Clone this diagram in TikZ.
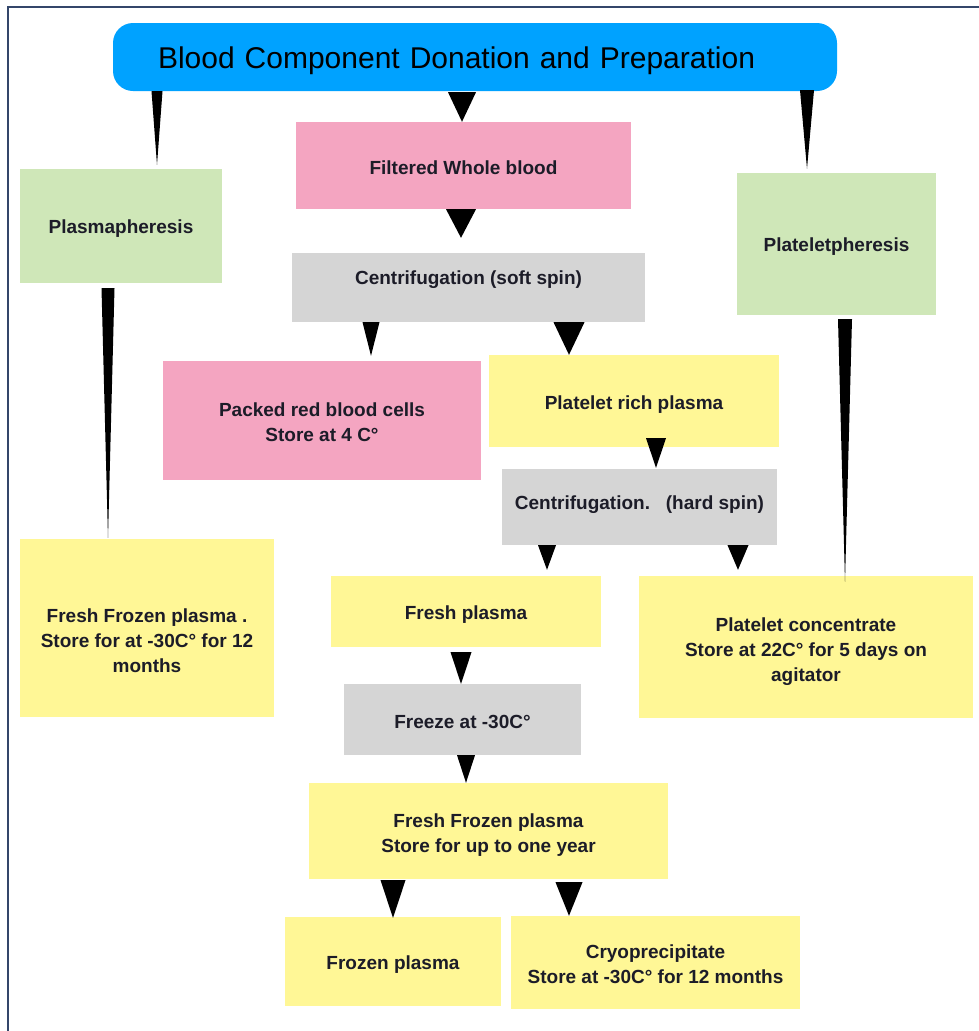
\documentclass[tikz,border=0pt]{standalone}
\usepackage{fontspec}
\setmainfont{Liberation Sans}
\usetikzlibrary{calc}
\definecolor{titleblue}{HTML}{00A2FF}
\definecolor{boxpink}{HTML}{F4A5C1}
\definecolor{boxgreen}{HTML}{CFE7B8}
\definecolor{boxgray}{HTML}{D5D5D5}
\definecolor{boxyellow}{HTML}{FFF796}
\definecolor{framecol}{HTML}{34466A}
\definecolor{txt}{HTML}{1C1C28}
\tikzset{
  box/.style={rectangle, inner sep=0pt, draw=none},
  boxtext/.style={inner sep=0pt, align=center, text=txt, font=\fontsize{19}{25}\selectfont\bfseries},
  wedgefill/.style={fill=black},
  framestyle/.style={draw=framecol, line width=2pt},
}
% name, x1, y1, x2, y2, fill, text, text shift
\newcommand{\bx}[8]{%
  \node[box, fill=#6, minimum width={#4-#2}, minimum height={#5-#3}] (#1) at ({(#2+#4)/2},{(#3+#5)/2}) {};
  \node[boxtext] (#1-t) at ($(#1.center)+(0,#8)$) {#7};}
% x, source, target, half width, top shift, tip shift
\newcommand{\wedgearrow}[6]{%
  \fill[wedgefill] ($(#1,0 |- #2.south)+(-#4,#5)$) -- ($(#1,0 |- #2.south)+(#4,#5)$) -- ($(#1,0 |- #3.north)+(0,#6)$) -- cycle;}
\begin{document}
\begin{tikzpicture}[x=1pt,y=-1pt]
\useasboundingbox (0,0) rectangle (979,1031);
\fill[white] (0,0) rectangle (979,1031);
\coordinate (fbl) at (8,1031);
\coordinate (ftl) at (8,7);
\coordinate (ftr) at (979,7);
\draw[framestyle] (fbl) -- (ftl) -- (ftr);

\node[rectangle, rounded corners=20pt, fill=titleblue, minimum height=68pt, text width=634pt, text height=26pt, text depth=4pt, inner xsep=45pt, inner ysep=0pt, align=left, font=\fontsize{30}{34}\selectfont, text=black] (title) at (475,57) {Blood Component Donation and Preparation};

\bx{filtered}{296}{122}{631}{209}{boxpink}{Filtered Whole blood}{2}
\bx{plasma}{20}{169}{222}{283}{boxgreen}{Plasmapheresis}{3}
\bx{platelet}{737}{173}{936}{315}{boxgreen}{Plateletpheresis}{3}
\bx{softspin}{292}{253}{645}{322}{boxgray}{Centrifugation (soft spin)}{-8}
\bx{packed}{163}{361}{481}{480}{boxpink}{Packed red blood cells\\Store at 4 C°}{1.5}
\bx{prp}{489}{355}{779}{447}{boxyellow}{Platelet rich plasma}{4}
\bx{hardspin}{502}{469}{777}{545}{boxgray}{Centrifugation.\ \ \ (hard spin)}{-2}
\bx{freshplasma}{331}{576}{601}{647}{boxyellow}{Fresh plasma}{3}
\bx{pltconc}{639}{576}{973}{718}{boxyellow}{Platelet concentrate\\Store at 22C° for 5 days on\\agitator}{5}
\bx{ffpleft}{20}{539}{274}{717}{boxyellow}{Fresh Frozen plasma .\\Store for at -30C° for 12\\months}{13}
\bx{freeze}{344}{684}{581}{755}{boxgray}{Freeze at -30C°}{2}
\bx{ffp}{309}{783}{668}{879}{boxyellow}{Fresh Frozen plasma\\Store for up to one year}{4}
\bx{frozen}{285}{917}{501}{1006}{boxyellow}{Frozen plasma}{3}
\bx{cryo}{511}{916}{800}{1009}{boxyellow}{Cryoprecipitate\\Store at -30C° for 12 months}{2}

\wedgearrow{157}{title}{plasma}{5.5}{0}{-4}
\wedgearrow{462}{title}{filtered}{14}{1}{0}
\wedgearrow{807}{title}{platelet}{7}{-1}{-4}
\wedgearrow{461}{filtered}{softspin}{15}{0}{-15}
\wedgearrow{371}{softspin}{packed}{8.5}{0}{-5}
\wedgearrow{569}{softspin}{prp}{15.5}{0}{0}
\wedgearrow{656}{prp}{hardspin}{10}{-9}{-1}
\wedgearrow{547}{hardspin}{freshplasma}{9}{0}{-6}
\wedgearrow{738}{hardspin}{pltconc}{10.5}{0}{-6}
\wedgearrow{845}{platelet}{pltconc}{7}{4}{6}
\wedgearrow{108}{plasma}{ffpleft}{6.5}{5}{-1}
\wedgearrow{461}{freshplasma}{freeze}{10.5}{5}{0}
\wedgearrow{466}{freeze}{ffp}{9}{0}{0}
\wedgearrow{393}{ffp}{frozen}{12.5}{1}{1}
\wedgearrow{569}{ffp}{cryo}{13.5}{3}{0}
\end{tikzpicture}
\end{document}
